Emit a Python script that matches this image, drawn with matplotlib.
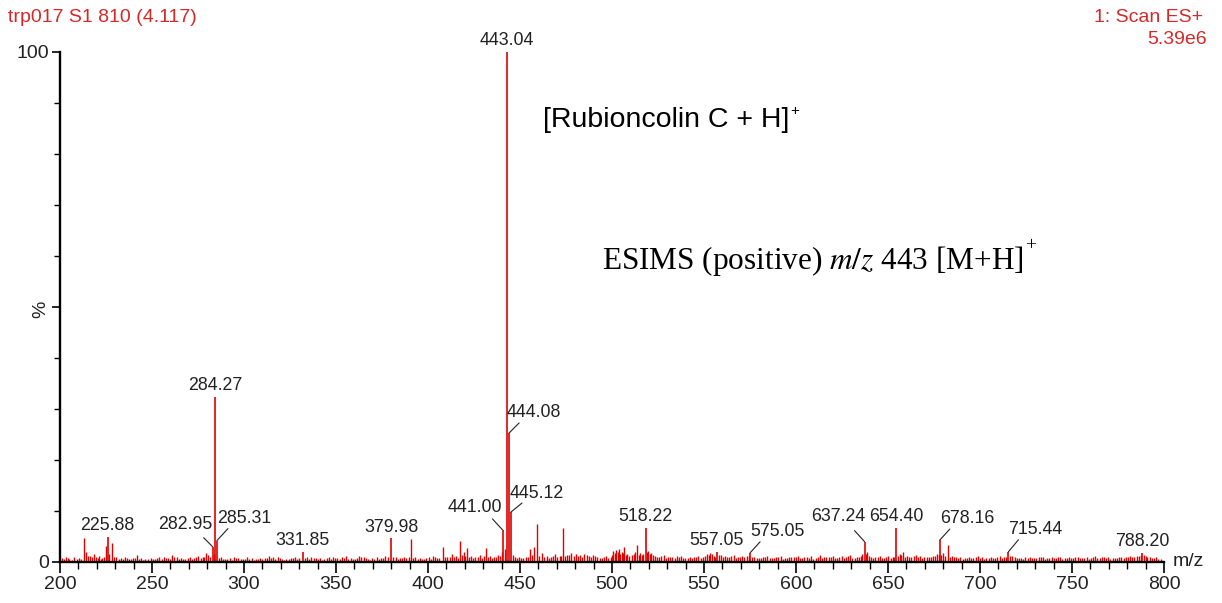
import matplotlib
matplotlib.use("Agg")
import matplotlib.pyplot as plt
from matplotlib.ticker import MultipleLocator

RED = "#e00000"
INK = "#222222"

# labelled peaks (m/z, relative intensity %)
peak_mz = [225.88, 282.95, 284.27, 285.31, 331.85, 379.98, 441.00, 443.04,
           444.08, 445.12, 518.22, 557.05, 575.05, 637.24, 654.40, 678.16,
           715.44, 788.20]
peak_int = [5.0, 3.0, 32.4, 4.2, 2.0, 4.7, 6.1, 100.0,
            25.3, 9.8, 6.7, 2.0, 1.8, 4.0, 6.7, 4.3,
            2.0, 1.8]
peak_lbl = ["225.88", "282.95", "284.27", "285.31", "331.85", "379.98", "441.00", "443.04",
            "444.08", "445.12", "518.22", "557.05", "575.05", "637.24", "654.40", "678.16",
            "715.44", "788.20"]

# unlabelled minor peaks
noise_mz = [201.2, 203.5, 205.1, 207.8, 210.4, 212.9, 214.2, 216.5, 218.3, 219.6,
            221.4, 223.0, 225.2, 228.3, 230.6, 232.9, 235.1, 237.4, 239.8, 241.7,
            244.0, 246.3, 249.2, 251.6, 254.0, 256.3, 258.7, 261.0, 263.4, 265.8,
            268.1, 270.5, 272.9, 275.2, 277.6, 279.2, 281.4, 287.5, 289.8, 292.2,
            294.6, 297.0, 299.3, 301.7, 304.1, 306.4, 308.8, 311.2, 313.5, 315.9,
            318.3, 320.6, 323.0, 325.4, 327.7, 330.1, 334.2, 336.6, 339.0, 341.3,
            343.7, 346.1, 348.4, 350.8, 353.2, 355.5, 357.9, 360.3, 362.6, 365.0,
            367.4, 369.7, 372.1, 374.5, 376.8, 382.4, 384.7, 387.1, 390.8, 393.2,
            395.6, 397.9, 400.3, 402.7, 405.0, 408.0, 410.5, 412.9, 415.2, 417.4,
            419.3, 421.0, 423.5, 425.8, 428.2, 431.5, 433.6, 436.0, 438.3, 440.0,
            442.0, 447.1, 449.4, 451.8, 454.1, 455.4, 457.6, 459.2, 461.9, 464.5,
            466.8, 469.2, 471.5, 473.4, 475.6, 477.9, 480.3, 482.6, 485.0, 487.4,
            489.7, 492.1, 494.5, 496.8, 499.2, 500.8, 502.3, 503.9, 505.2, 506.5,
            508.4, 510.7, 513.6, 515.4, 517.0, 519.6, 521.2, 523.4, 525.7, 528.1,
            530.4, 532.8, 535.1, 537.5, 539.9, 542.2, 544.6, 547.0, 549.3, 551.7,
            553.5, 555.4, 559.0, 561.4, 563.7, 566.1, 568.5, 570.8, 573.2, 577.4,
            579.8, 582.2, 584.5, 586.9, 589.3, 591.6, 594.0, 596.4, 598.7, 601.1,
            603.5, 605.8, 608.2, 610.6, 612.9, 615.3, 617.7, 620.0, 622.4, 624.8,
            627.1, 629.5, 631.9, 634.2, 636.0, 638.6, 640.8, 643.1, 645.5, 647.9,
            650.2, 652.6, 656.3, 658.0, 660.4, 662.7, 665.1, 667.5, 669.8, 672.2,
            674.6, 676.9, 680.0, 682.5, 684.6, 687.0, 689.3, 691.7, 694.1, 696.4,
            698.8, 701.2, 703.5, 705.9, 708.3, 710.6, 713.0, 717.6, 720.0, 722.4,
            724.7, 727.1, 729.5, 731.8, 734.2, 736.6, 738.9, 741.3, 743.7, 746.0,
            748.4, 750.8, 753.1, 755.5, 757.9, 760.2, 762.6, 765.0, 767.3, 769.7,
            772.1, 774.4, 776.8, 779.2, 781.5, 783.9, 786.3, 789.4, 791.0, 793.4,
            795.7]
noise_int = [0.8, 1.0, 0.6, 0.9, 0.7, 4.7, 2.0, 1.1, 1.5, 0.9,
             1.2, 0.8, 3.1, 3.7, 1.0, 0.7, 0.9, 0.6, 0.8, 1.4,
             0.7, 0.5, 0.8, 0.6, 1.0, 0.9, 0.7, 1.3, 1.0, 0.8,
             0.6, 1.0, 0.8, 1.1, 0.9, 1.8, 1.0, 0.9, 0.6, 0.7,
             1.0, 0.8, 0.6, 0.9, 0.7, 0.5, 0.8, 0.7, 1.1, 0.9,
             1.0, 0.6, 0.5, 0.8, 1.0, 0.8, 0.9, 1.0, 0.8, 0.7,
             0.5, 0.9, 1.0, 0.7, 0.9, 1.1, 0.8, 0.6, 1.2, 1.0,
             0.6, 0.7, 0.9, 0.8, 1.1, 0.9, 0.7, 1.0, 4.5, 1.0,
             0.7, 0.6, 0.9, 1.1, 0.8, 3.0, 1.0, 1.5, 1.2, 4.1,
             1.9, 2.7, 1.1, 0.9, 1.4, 2.7, 1.2, 1.0, 1.3, 1.9,
             2.5, 1.0, 0.9, 0.8, 1.0, 2.5, 2.9, 7.4, 1.8, 1.2,
             1.0, 1.5, 1.1, 6.7, 1.4, 1.8, 1.5, 1.3, 1.6, 1.2,
             1.4, 1.0, 0.8, 1.1, 1.0, 2.1, 2.3, 2.5, 2.0, 3.0,
             1.6, 1.3, 3.3, 1.7, 1.5, 2.2, 1.8, 1.2, 1.0, 1.3,
             1.0, 0.9, 1.2, 1.1, 0.8, 1.0, 0.9, 1.2, 1.0, 1.5,
             1.8, 1.2, 1.4, 1.2, 1.0, 1.3, 0.9, 1.1, 1.2, 1.0,
             0.8, 0.9, 1.1, 0.8, 1.0, 1.2, 0.7, 0.9, 1.0, 1.2,
             0.8, 1.0, 1.1, 0.7, 1.3, 0.9, 1.0, 1.2, 0.8, 1.1,
             0.9, 1.3, 0.8, 1.0, 1.5, 1.9, 1.0, 0.9, 1.1, 0.8,
             1.2, 0.9, 1.6, 1.9, 1.2, 1.0, 1.3, 1.1, 0.9, 1.0,
             1.2, 1.5, 1.8, 3.3, 1.2, 1.0, 0.9, 0.7, 1.0, 0.8,
             1.1, 0.9, 0.7, 1.0, 0.8, 1.2, 0.9, 1.1, 0.8, 0.7,
             0.9, 1.0, 0.8, 0.9, 1.0, 0.7, 0.9, 0.8, 1.0, 0.7,
             0.9, 0.8, 1.0, 0.8, 0.9, 0.7, 1.1, 0.8, 1.0, 0.9,
             0.7, 0.8, 1.0, 0.9, 1.1, 1.0, 1.2, 1.3, 1.0, 0.8,
             0.9]

# baseline chatter between the minor peaks (m/z, %)
baseline_peaks = [
    (202.3, 0.5), (204.4, 0.7), (206.5, 0.4), (209.0, 0.6), (211.6, 0.5), (215.3, 1.2),
    (217.4, 0.9), (220.5, 0.8), (222.2, 0.6), (224.1, 1.0), (226.6, 1.5), (229.4, 0.9),
    (231.8, 0.6), (234.0, 0.5), (236.3, 0.8), (238.6, 0.5), (240.8, 0.7), (242.9, 0.6),
    (245.1, 0.4), (247.8, 0.6), (250.4, 0.5), (252.8, 0.7), (255.2, 0.6), (257.5, 0.8),
    (259.9, 0.5), (262.2, 0.9), (264.6, 0.6), (267.0, 0.5), (269.3, 0.7), (271.7, 0.6),
    (274.1, 0.9), (276.4, 0.7), (278.4, 1.0), (280.3, 1.3), (283.6, 1.5), (286.4, 0.8),
    (288.6, 0.5), (291.0, 0.6), (293.4, 0.4), (295.8, 0.7), (298.1, 0.5), (300.5, 0.6),
    (302.9, 0.5), (305.2, 0.4), (307.6, 0.6), (310.0, 0.5), (312.3, 0.8), (314.7, 0.7),
    (317.1, 0.5), (319.4, 0.7), (321.8, 0.4), (324.2, 0.6), (326.5, 0.7), (328.9, 0.5),
    (332.9, 0.7), (335.4, 0.6), (337.8, 0.8), (340.1, 0.5), (342.5, 0.4), (344.9, 0.7),
    (347.2, 0.6), (349.6, 0.8), (352.0, 0.5), (354.3, 0.7), (356.7, 0.6), (359.1, 0.5),
    (361.4, 0.8), (363.8, 0.9), (366.2, 0.7), (368.5, 0.4), (370.9, 0.6), (373.3, 0.5),
    (375.6, 0.8), (378.0, 0.9), (381.2, 1.0), (383.5, 0.6), (385.9, 0.8), (388.3, 0.7),
    (389.6, 0.9), (392.0, 0.7), (394.4, 0.5), (396.7, 0.6), (399.1, 0.8), (401.5, 0.6),
    (403.8, 0.9), (406.2, 0.7), (409.2, 1.0), (411.7, 0.9), (414.0, 1.0), (416.3, 0.8),
    (418.4, 1.3), (420.1, 1.1), (422.3, 0.9), (424.6, 0.7), (427.0, 1.0), (429.4, 0.8),
    (430.4, 1.2), (432.6, 0.9), (434.8, 0.8), (437.2, 0.9), (439.2, 1.1), (446.0, 1.3),
    (448.2, 0.8), (450.6, 0.7), (453.0, 0.9), (456.5, 1.4), (460.4, 1.2), (463.2, 0.9),
    (465.6, 0.8), (468.0, 1.1), (470.3, 0.9), (472.4, 1.2), (474.5, 1.1), (476.7, 1.3),
    (479.1, 1.1), (481.4, 1.2), (483.8, 1.0), (486.2, 1.3), (488.5, 0.9), (490.9, 1.1),
    (493.3, 0.7), (495.6, 0.9), (498.0, 0.8), (500.0, 1.3), (501.5, 1.7), (503.1, 1.9),
    (504.6, 1.6), (505.9, 1.8), (507.4, 1.4), (509.5, 1.2), (511.9, 1.5), (512.7, 2.0),
    (514.5, 1.4), (516.2, 1.3), (518.9, 1.9), (520.4, 1.6), (522.3, 1.3), (524.6, 0.9),
    (526.9, 1.1), (529.3, 0.8), (531.6, 1.0), (534.0, 0.7), (536.3, 0.9), (538.7, 0.8),
    (541.1, 0.7), (543.4, 0.8), (545.8, 1.0), (548.2, 0.8), (550.5, 1.2), (552.6, 1.4),
    (554.4, 1.5), (556.2, 1.0), (558.0, 1.3), (560.2, 1.0), (562.5, 0.9), (564.9, 1.1),
    (567.3, 0.8), (569.6, 1.0), (572.0, 0.9), (574.2, 1.1), (576.2, 0.9), (578.6, 0.7),
    (581.0, 0.8), (583.3, 1.0), (585.7, 0.7), (588.1, 0.8), (590.4, 1.0), (592.8, 0.6),
    (595.2, 0.8), (597.5, 0.9), (599.9, 1.0), (602.3, 0.7), (604.6, 0.9), (607.0, 0.8),
    (609.4, 0.6), (611.7, 1.0), (614.1, 0.8), (616.5, 0.9), (618.8, 1.0), (621.2, 0.7),
    (623.6, 0.9), (625.9, 0.8), (628.3, 1.1), (630.7, 0.7), (633.0, 0.9), (635.1, 1.1),
    (637.9, 1.6), (639.7, 1.2), (641.9, 0.8), (644.3, 1.0), (646.7, 0.7), (649.0, 0.9),
    (651.4, 0.8), (653.5, 0.9), (655.2, 1.2), (657.1, 1.4), (659.2, 1.0), (661.5, 0.9),
    (663.9, 1.1), (666.3, 0.9), (668.6, 0.8), (671.0, 0.9), (673.4, 1.0), (675.7, 1.1),
    (677.5, 1.3), (679.0, 1.4), (681.2, 1.2), (683.5, 1.0), (685.8, 0.9), (688.1, 0.8),
    (690.5, 0.6), (692.9, 0.8), (695.2, 0.7), (697.6, 0.9), (700.0, 0.8), (702.3, 0.6),
    (704.7, 0.8), (707.1, 0.7), (709.4, 0.9), (711.8, 0.8), (714.2, 1.0), (716.5, 1.2),
    (718.8, 0.9), (721.2, 0.7), (723.5, 0.6), (725.9, 0.8), (728.3, 0.7), (730.6, 0.8),
    (733.0, 0.9), (735.4, 0.6), (737.7, 0.8), (740.1, 0.7), (742.5, 0.9), (744.8, 0.6),
    (747.2, 0.8), (749.6, 0.7), (751.9, 0.9), (754.3, 0.7), (756.7, 0.8), (759.0, 0.6),
    (761.4, 0.9), (763.8, 0.7), (766.1, 0.9), (768.5, 0.8), (770.9, 0.6), (773.2, 0.7),
    (775.6, 0.9), (778.0, 0.8), (780.3, 1.0), (782.7, 0.9), (785.1, 1.1), (787.4, 1.3),
    (790.2, 1.1), (792.2, 0.9), (794.6, 0.7), (797.0, 0.6), (798.6, 0.5),
]

x_ticks = [200, 250, 300, 350, 400, 450, 500, 550, 600, 650, 700, 750, 800]

# labels with a leader line: (line dx, line dy, text dx, text dy, ha) in pixels
leader = {
    "282.95": (-9, 9, 0, 22, "right"),
    "285.31": (11, 12, 0, 22, "left"),
    "441.00": (-11, 12, -1, 23, "right"),
    "444.08": (10, 10, -2, 20, "left"),
    "445.12": (11, 9, -1, 19, "left"),
    "575.05": (10, 11, 0, 21, "left"),
    "637.24": (-10, 11, 1, 25, "right"),
    "678.16": (10, 11, 0, 22, "left"),
    "715.44": (10, 12, 0, 22, "left"),
}

W, H = 1222, 603
fig = plt.figure(figsize=(W / 100, H / 100), dpi=100)
ax = fig.add_axes([60 / W, 1 - 562 / H, (1164 - 60) / W, (562 - 52) / H])

base_mz = [p[0] for p in baseline_peaks]
base_int = [p[1] for p in baseline_peaks]
ax.vlines(base_mz, 0, base_int, color=RED, lw=1.0)
ax.vlines(noise_mz, 0, noise_int, color=RED, lw=1.0)
ax.vlines(peak_mz, 0, peak_int, color=RED, lw=1.2)

for mz, h, txt in zip(peak_mz, peak_int, peak_lbl):
    if txt in leader:
        ldx, ldy, tdx, tdy, ha = leader[txt]
        ax.annotate("", xy=(mz, h), xytext=(ldx, ldy), textcoords="offset pixels",
                    arrowprops=dict(arrowstyle="-", lw=0.8, color=INK,
                                    shrinkA=0, shrinkB=0))
    else:
        tdx, tdy, ha = 0, 11, "center"
    ax.annotate(txt, xy=(mz, h), xytext=(tdx, tdy), textcoords="offset pixels",
                ha=ha, va="center", fontsize=12.8, color=INK,
                family="Liberation Sans", annotation_clip=False)

ax.set_xlim(200, 800)
ax.set_ylim(0, 100)
for s in ("top", "right"):
    ax.spines[s].set_visible(False)
for s in ("left", "bottom"):
    ax.spines[s].set_linewidth(1.7)
    ax.spines[s].set_color("black")

ax.set_xticks(x_ticks)
ax.xaxis.set_minor_locator(MultipleLocator(10))
ax.set_yticks([0, 50, 100])
ax.set_yticklabels(["0", "%", "100"])
ax.get_yticklabels()[1].set_rotation(90)
ax.yaxis.set_minor_locator(MultipleLocator(10))
ax.tick_params(axis="x", which="major", length=8, width=1.2, labelsize=14, pad=2)
ax.tick_params(axis="x", which="minor", length=5, width=1.0)
ax.tick_params(axis="y", which="major", length=6, width=1.2, labelsize=14, pad=2)
ax.tick_params(axis="y", which="minor", length=4, width=1.0)
for lab in ax.get_xticklabels() + ax.get_yticklabels():
    lab.set_family("Liberation Sans")
    lab.set_color(INK)

ax.text(1.008, 0, "m/z", transform=ax.transAxes, ha="left", va="center",
        fontsize=14, color=INK, family="Liberation Sans")

# header
fig.text(8 / W, 1 - 17 / H, "trp017 S1 810 (4.117)", ha="left", va="center",
         fontsize=14, color="#d42a2a", family="Liberation Sans")
fig.text(1203 / W, 1 - 17 / H, "1: Scan ES+", ha="right", va="center",
         fontsize=14, color="#d42a2a", family="Liberation Sans")
fig.text(1207 / W, 1 - 40 / H, "5.39e6", ha="right", va="center",
         fontsize=14, color="#d42a2a", family="Liberation Sans")

# annotations, with a small superscript "+" set just after each
t1 = fig.text(543 / W, 1 - 127 / H, "[Rubioncolin C + H]", ha="left",
              va="baseline", fontsize=20.5, color="black", family="Liberation Sans")
t2 = fig.text(602 / W, 1 - 269 / H, "ESIMS (positive) $m/z$ 443 [M+H]", ha="left",
              va="baseline", fontsize=22.5, color="black", family="Liberation Serif",
              math_fontfamily="stix")
fig.canvas.draw()
r = fig.canvas.get_renderer()
x1 = t1.get_window_extent(r).x1
fig.text((x1 + 1) / W, 1 - 115 / H, "+", ha="left", va="baseline", fontsize=11,
         color="black", family="Liberation Sans")
x2 = t2.get_window_extent(r).x1
fig.text((x2 + 1) / W, 1 - 250 / H, "+", ha="left", va="baseline", fontsize=14,
         color="black", family="Liberation Serif")

fig.savefig("out.png", dpi=100)
